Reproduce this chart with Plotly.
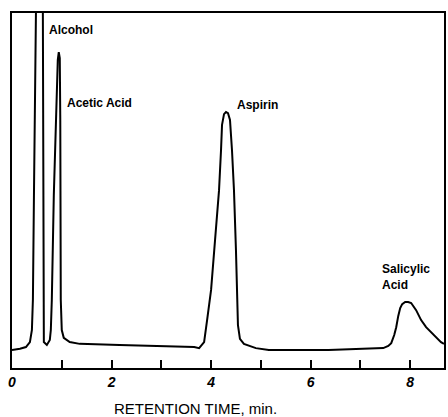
import plotly.graph_objects as go

# Retention time (min) and detector signal (% of full scale)
time_min = [
    0.00, 0.16, 0.28, 0.36, 0.40, 0.42, 0.44, 0.46, 0.48, 0.52, 0.56, 0.60,
    0.62, 0.625, 0.63, 0.64, 0.70,
    0.76, 0.78, 0.80, 0.84, 0.88, 0.90, 0.92, 0.94, 0.96, 0.97, 0.976, 0.98,
    1.00, 1.04, 1.16, 1.36,
    2.16, 2.96, 3.66, 3.76,
    3.86, 3.92, 4.00, 4.08, 4.16, 4.20, 4.22, 4.26, 4.30, 4.34, 4.38, 4.42,
    4.46, 4.50, 4.52, 4.54, 4.58, 4.66, 4.90, 5.16,
    6.36, 7.46,
    7.56, 7.62, 7.68, 7.72, 7.76, 7.80, 7.84, 7.90, 7.96, 8.02, 8.12, 8.22,
    8.32, 8.42, 8.52, 8.62, 8.68,
]
signal = [
    5.1, 5.4, 5.9, 7.3, 10.7, 19.2, 47.3, 75.5, 100.3, 150, 170, 140,
    100.3, 47, 15, 7.3, 6.5,
    7.9, 10.7, 19.2, 48.7, 69.9, 78.3, 86.8, 89.0, 87.3, 69.9, 47.3, 19.2,
    10.7, 8.5, 7.3, 6.8,
    6.5, 6.2, 5.9, 5.6,
    7.3, 13.5, 22.0, 36.1, 50.1, 61.4, 68.5, 71.5, 72.1, 71.8, 69.9, 61.4,
    50.1, 33.2, 22.0, 12.1, 8.2, 6.8, 5.6, 5.1,
    5.1, 5.6,
    6.2, 7.0, 9.3, 11.5, 14.6, 16.9, 18.0, 18.6, 18.6, 18.3, 16.3, 13.5,
    11.5, 10.1, 8.7, 7.3, 6.8,
]

# Peak labels
peak_names = ["Alcohol", "Acetic Acid", "Aspirin"]
peak_label_x = [1.18, 1.76, 4.94]
peak_label_y = [95.2, 74.6, 74.1]
salicylic_label = "Salicylic<br>Acid"
salicylic_label_x = 7.40
salicylic_label_y = 25.5

# Axis ticks
tick_values = [0, 1, 2, 3, 4, 5, 6, 7, 8]
tick_labels = ["0", "", "2", "", "4", "", "6", "", "8"]
x_title = "RETENTION TIME, min."

fig = go.Figure()
fig.add_trace(go.Scatter(
    x=time_min, y=signal, mode="lines",
    line=dict(color="black", width=2),
    hoverinfo="skip", showlegend=False,
))

for name, lx, ly in zip(peak_names, peak_label_x, peak_label_y):
    fig.add_annotation(
        x=lx, y=ly, xref="x", yref="y", text=name, showarrow=False,
        font=dict(family="Liberation Sans", size=12, color="black", weight="bold"),
        xanchor="center", yanchor="middle",
    )

fig.add_annotation(
    x=salicylic_label_x, y=salicylic_label_y, xref="x", yref="y",
    text=salicylic_label, showarrow=False, align="left",
    font=dict(family="Liberation Sans", size=12, color="black", weight="bold"),
    xanchor="left", yanchor="middle",
)

fig.add_annotation(
    x=0.424, y=-0.113, xref="paper", yref="paper", text=x_title,
    showarrow=False, xanchor="center", yanchor="middle",
    font=dict(family="Liberation Sans", size=15, color="black"),
)

fig.update_xaxes(
    range=[0, 8.68], tickmode="array", tickvals=tick_values, ticktext=tick_labels,
    ticks="inside", ticklen=8, tickwidth=2, tickcolor="black",
    showline=True, linecolor="black", linewidth=2, mirror=True,
    showgrid=False, zeroline=False,
    tickfont=dict(family="Liberation Sans", size=14, color="black",
                  weight="bold", style="italic"),
)
fig.update_yaxes(
    range=[0, 100], showticklabels=False, ticks="",
    showline=True, linecolor="black", linewidth=2, mirror=True,
    showgrid=False, zeroline=False,
)

fig.update_layout(
    width=448, height=417,
    margin=dict(l=12, r=2, t=13, b=49),
    plot_bgcolor="white", paper_bgcolor="white",
)

fig.write_html("out.html")
